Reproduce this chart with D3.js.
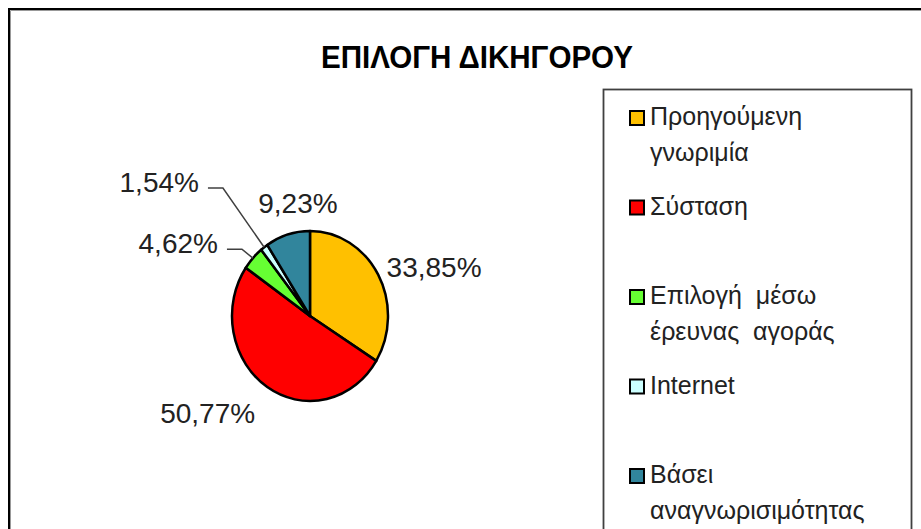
<!DOCTYPE html>
<html>
<head>
<meta charset="utf-8">
<script src="https://cdn.jsdelivr.net/npm/d3@7"></script>
<style>
  body { margin: 0; background: #fff; }
  svg { display: block; font-family: "Liberation Sans", Arial, sans-serif; }
  text { white-space: pre; }
</style>
</head>
<body>
<svg id="chart"></svg>
<script>
// Data: lawyer choice (counts out of 65 answers)
const categories = ["Προηγούμενη γνωριμία", "Σύσταση", "Επιλογή μέσω έρευνας αγοράς", "Internet", "Βάσει αναγνωρισιμότητας"];
const legendLines = [["Προηγούμενη", "γνωριμία"], ["Σύσταση"], ["Επιλογή  μέσω", "έρευνας  αγοράς"], ["Internet"], ["Βάσει", "αναγνωρισιμότητας"]];
const shares = [33.85, 50.77, 4.62, 1.54, 9.23];
const labels = ["33,85%", "50,77%", "4,62%", "1,54%", "9,23%"];
const colors = ["#FFC000", "#FF0000", "#66FF33", "#CCFFFF", "#31859C"];

// label placement (angle in degrees clockwise from top, distance from centre), leader flag
const labelAngle = [69.9, 228.9, 296.9, 309.2, 353.4];
const labelDist = [144, 148, 161, 212, 114];
const hasLeader = [false, false, true, true, false];

const width = 921, height = 529;
const cx = 310, cy = 316, ry = 85, rx = 78;
const sx = rx / ry;

const svg = d3.select("#chart")
  .attr("width", width)
  .attr("height", height);

svg.append("rect").attr("width", width).attr("height", height).attr("fill", "#fff");

// chart area frame
svg.append("rect")
  .attr("x", 9).attr("y", 9)
  .attr("width", 1000).attr("height", 1000)
  .attr("fill", "none").attr("stroke", "#000").attr("stroke-width", 2);
svg.append("path")
  .attr("d", "M10.5,1000V10.5H1000")
  .attr("fill", "none").attr("stroke", "#999").attr("stroke-width", 1);

// title
svg.append("text")
  .attr("x", 477).attr("y", 68)
  .attr("text-anchor", "middle")
  .attr("font-size", 32)
  .attr("font-weight", "bold")
  .attr("textLength", 312)
  .attr("lengthAdjust", "spacingAndGlyphs")
  .attr("fill", "#000")
  .text("ΕΠΙΛΟΓΗ ΔΙΚΗΓΟΡΟΥ");

// pie
const pie = d3.pie().sort(null).value(d => d);
const arcs = pie(shares);
const arc = d3.arc().innerRadius(0).outerRadius(ry);

const g = svg.append("g")
  .attr("transform", `translate(${cx},${cy}) scale(${sx},1)`);

g.selectAll("path")
  .data(arcs)
  .enter()
  .append("path")
  .attr("d", arc)
  .attr("fill", (d, i) => colors[i])
  .attr("stroke", "#000")
  .attr("stroke-width", 2.5)
  .attr("vector-effect", "non-scaling-stroke")
  .attr("stroke-linejoin", "round");

// helper: polar (clockwise from top) -> page coords, with ellipse squeeze
function polar(angleDeg, dist) {
  const a = angleDeg * Math.PI / 180;
  return [cx + Math.sin(a) * dist * sx, cy - Math.cos(a) * dist];
}

// data labels
arcs.forEach((d, i) => {
  const [lx, ly] = polar(labelAngle[i], labelDist[i]);
  const t = svg.append("text")
    .attr("x", lx).attr("y", ly + 10)
    .attr("text-anchor", "middle")
    .attr("font-size", 28)
    .attr("fill", "#222")
    .text(labels[i]);

  if (hasLeader[i]) {
    const box = t.node().getBBox();
    const mid = (d.startAngle + d.endAngle) / 2 * 180 / Math.PI;
    const [ex, ey] = polar(mid, ry);
    const y0 = ly + 6;
    const x0 = box.x + box.width + 9;
    svg.append("path")
      .attr("d", `M${x0},${y0}H${x0 + 15}L${ex},${ey}`)
      .attr("fill", "none")
      .attr("stroke", "#404040")
      .attr("stroke-width", 1.5);
  }
});

// legend
svg.append("rect")
  .attr("x", 603.5).attr("y", 89.5)
  .attr("width", 308).attr("height", 500)
  .attr("fill", "#fff")
  .attr("stroke", "#404040")
  .attr("stroke-width", 1.8);

const legend = svg.selectAll(".legend-item")
  .data(categories)
  .enter()
  .append("g")
  .attr("class", "legend-item")
  .attr("transform", (d, i) => `translate(630,${125 + i * 89.5})`);

legend.append("rect")
  .attr("x", 0).attr("y", -14)
  .attr("width", 14).attr("height", 14)
  .attr("fill", (d, i) => colors[i])
  .attr("stroke", "#000")
  .attr("stroke-width", 2);

legend.each(function (d, i) {
  const item = d3.select(this);
  legendLines[i].forEach((line, k) => {
    item.append("text")
      .attr("x", 20)
      .attr("y", k * 36)
      .attr("font-size", 25)
      .attr("fill", "#222")
      .text(line);
  });
});
</script>
</body>
</html>
